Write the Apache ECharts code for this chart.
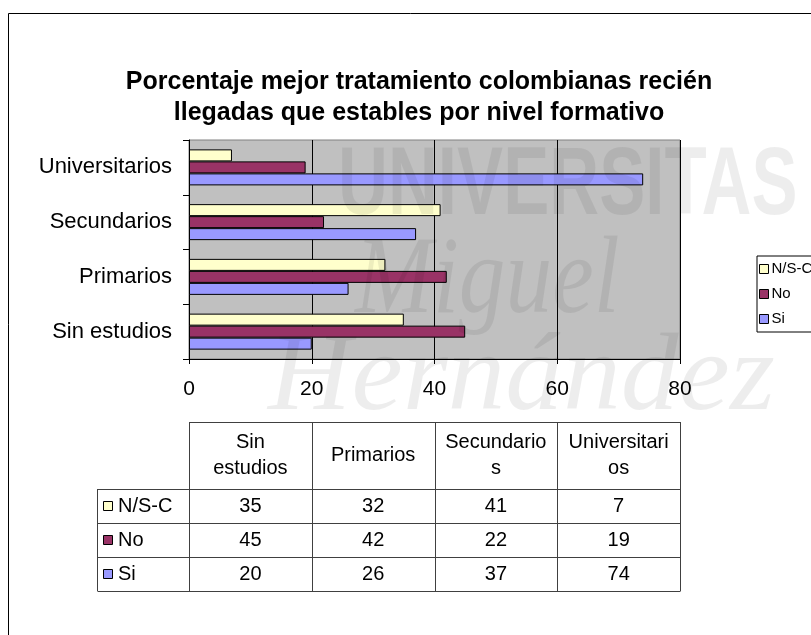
<!DOCTYPE html>
<html>
<head>
<meta charset="utf-8">
<script src="https://cdn.jsdelivr.net/npm/echarts@6/dist/echarts.min.js"></script>
<style>
  html, body { margin: 0; padding: 0; background: #fff; }
  #main { width: 811px; height: 635px; }
</style>
</head>
<body>
<div id="main"></div>
<script>
  var myChart = echarts.init(document.getElementById('main'));

  // datos
  var categories = ['Sin estudios', 'Primarios', 'Secundarios', 'Universitarios'];
  var tableHeaders = ['Sin\nestudios', 'Primarios', 'Secundario\ns', 'Universitari\nos'];
  var seriesNames = ['N/S-C', 'No', 'Si'];
  var nscValues = [35, 32, 41, 7];
  var noValues = [45, 42, 22, 19];
  var siValues = [20, 26, 37, 74];
  var xTicks = [0, 20, 40, 60, 80];

  var colors = { 'N/S-C': '#FFFFCC', 'No': '#993366', 'Si': '#9999FF' };
  var valuesByName = { 'N/S-C': nscValues, 'No': noValues, 'Si': siValues };
  var font = 'Liberation Sans, Arial, sans-serif';

  var series = seriesNames.map(function (name) {
    return {
      name: name,
      type: 'bar',
      data: valuesByName[name],
      barWidth: 12,
      barGap: '0%',
      itemStyle: { color: colors[name], borderColor: '#000', borderWidth: 1 },
      emphasis: { disabled: true },
      animation: false
    };
  });

  var option = {
    animation: false,
    textStyle: { fontFamily: font },
    legend: {
      data: seriesNames,
      orient: 'vertical',
      left: 757,
      top: 256,
      padding: [4, 20, 4, 2],
      itemGap: 7,
      itemWidth: 9,
      itemHeight: 9,
      icon: 'rect',
      borderColor: '#000',
      borderWidth: 1,
      backgroundColor: '#fff',
      itemStyle: { borderColor: '#000', borderWidth: 1 },
      textStyle: { fontSize: 15, color: '#000', fontFamily: font, lineHeight: 18, padding: [0, 0, 0, -2] },
      selectedMode: false
    },
    grid: {
      left: 189, right: 131, top: 140, bottom: 276,
      show: true,
      backgroundColor: '#C0C0C0',
      borderColor: '#808080',
      borderWidth: 1
    },
    xAxis: {
      type: 'value',
      min: xTicks[0],
      max: xTicks[xTicks.length - 1],
      interval: 20,
      axisLine: { show: true, lineStyle: { color: '#000' } },
      axisTick: { show: true, length: 5, lineStyle: { color: '#000' } },
      splitLine: { show: true, lineStyle: { color: '#000', width: 1 } },
      axisLabel: { fontSize: 21, color: '#000', margin: 20, fontFamily: font }
    },
    yAxis: {
      type: 'category',
      data: categories,
      axisLine: { show: true, lineStyle: { color: '#000' } },
      axisTick: { show: true, length: 6, lineStyle: { color: '#000' } },
      axisLabel: { fontSize: 22, color: '#000', margin: 17, fontFamily: font }
    },
    series: series
  };

  myChart.setOption(option);

  // tabla de datos y decoración
  var x0 = myChart.convertToPixel({ xAxisIndex: 0 }, xTicks[0]);
  var x1 = myChart.convertToPixel({ xAxisIndex: 0 }, xTicks[xTicks.length - 1]);
  var colW = (x1 - x0) / categories.length;
  var tableLeft = 97;
  var headTop = 422, headBottom = 489, rowH = 34;
  var lineColor = '#404040';
  var els = [];

  // borde exterior
  els.push({ type: 'rect', shape: { x: 8.5, y: 13.5, width: 900, height: 700 },
    style: { fill: null, stroke: '#000', lineWidth: 1 }, z: 1 });

  // título
  els.push({ type: 'text', x: 419, y: 98, z: 10,
    style: { text: 'Porcentaje mejor tratamiento colombianas recién\nllegadas que estables por nivel formativo',
      font: 'bold 25px ' + font, fill: '#000', textAlign: 'center', textVerticalAlign: 'middle', lineHeight: 31 } });

  var tableBottom = headBottom + rowH * seriesNames.length;
  function hline(xa, xb, y) {
    els.push({ type: 'line', shape: { x1: xa, y1: y, x2: xb, y2: y }, style: { stroke: lineColor, lineWidth: 1 }, z: 10 });
  }
  function vline(x, ya, yb) {
    els.push({ type: 'line', shape: { x1: x, y1: ya, x2: x, y2: yb }, style: { stroke: lineColor, lineWidth: 1 }, z: 10 });
  }
  hline(Math.round(x0) + 0.5, Math.round(x1) + 0.5, headTop + 0.5);
  for (var r = 0; r <= seriesNames.length; r++) {
    hline(tableLeft + 0.5, Math.round(x1) + 0.5, headBottom + r * rowH + 0.5);
  }
  vline(tableLeft + 0.5, headBottom, tableBottom);
  for (var c = 0; c <= categories.length; c++) {
    vline(Math.round(x0 + c * colW) + 0.5, headTop, tableBottom);
  }
  categories.forEach(function (cat, i) {
    els.push({ type: 'text', x: x0 + (i + 0.5) * colW, y: (headTop + headBottom) / 2, z: 10,
      style: { text: tableHeaders[i], font: '20px ' + font, fill: '#000', textAlign: 'center',
        textVerticalAlign: 'middle', lineHeight: 26 } });
  });
  seriesNames.forEach(function (name, r) {
    var cy = headBottom + (r + 0.5) * rowH;
    els.push({ type: 'rect', shape: { x: 103.5, y: Math.round(cy) - 4.5, width: 9, height: 9 },
      style: { fill: colors[name], stroke: '#000', lineWidth: 1 }, z: 10 });
    els.push({ type: 'text', x: 118, y: cy, z: 10,
      style: { text: name, font: '20px ' + font, fill: '#000', textVerticalAlign: 'middle' } });
    valuesByName[name].forEach(function (v, i) {
      els.push({ type: 'text', x: x0 + (i + 0.5) * colW, y: cy, z: 10,
        style: { text: String(v), font: '20px ' + font, fill: '#000', textAlign: 'center', textVerticalAlign: 'middle' } });
    });
  });

  // marca de agua
  var wm = 'rgba(0,0,0,0.07)';
  els.push({ type: 'text', x: 338, y: 140, scaleX: 0.72, z: 100, silent: true,
    style: { text: 'UNIVERSITAS', font: 'bold 96px ' + font, fill: wm } });
  els.push({ type: 'text', x: 355, y: 228, scaleX: 0.85, z: 100, silent: true,
    style: { text: 'Miguel', font: 'italic 110px Liberation Serif, serif', fill: wm } });
  els.push({ type: 'text', x: 268, y: 325, scaleX: 1.05, z: 100, silent: true,
    style: { text: 'Hernández', font: 'italic 110px Liberation Serif, serif', fill: wm } });

  myChart.setOption({ graphic: { elements: els } });
</script>
</body>
</html>
